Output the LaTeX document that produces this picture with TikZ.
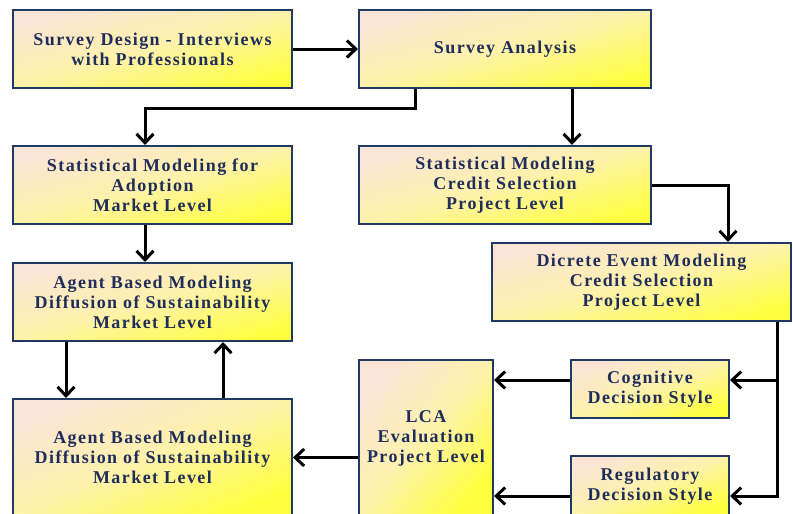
\documentclass[tikz,border=0pt]{standalone}
\usepackage{fontspec}
\setmainfont{Liberation Serif}[LetterSpace=8]
\usetikzlibrary{arrows.meta}
\definecolor{boxline}{HTML}{1F3864}
\definecolor{boxtext}{HTML}{1F2D5C}
\definecolor{boxtop}{HTML}{FCE4D6}
\definecolor{boxmid}{HTML}{FFF2AA}
\definecolor{boxbot}{HTML}{FFFF40}
\begin{document}
\begin{tikzpicture}[x=1pt,y=1pt,
  box/.style={draw=boxline, line width=2pt, top color=boxtop, bottom color=boxbot,
    middle color=boxmid, shading angle=15, text=boxtext,
    font=\fontsize{18}{20}\selectfont\bfseries, align=center, inner sep=0pt},
  arr/.style={black, line width=3pt, -{Straight Barb[length=9pt,width=17pt]}}]
\useasboundingbox (0,0) rectangle (793,-514);
\clip (0,0) rectangle (793,-514);
\node[box, minimum width=279pt, minimum height=78pt] (sd) at (152.5,-49) {Survey Design - Interviews\\with Professionals};
\node[box, minimum width=292pt, minimum height=78pt] (sa) at (505,-49) {Survey Analysis};
\node[box, minimum width=279pt, minimum height=78pt] (sma) at (152.5,-185) {Statistical Modeling for\\Adoption\\Market Level};
\node[box, minimum width=292pt, minimum height=78pt] (smc) at (505,-185) {Statistical Modeling\\Credit Selection\\Project Level};
\node[box, minimum width=299pt, minimum height=78pt] (dem) at (641.5,-282) {Dicrete Event Modeling\\Credit Selection\\Project Level};
\node[box, minimum width=279pt, minimum height=78pt] (abm1) at (152.5,-302) {Agent Based Modeling\\Diffusion of Sustainability\\Market Level};
\node[box, minimum width=279pt, minimum height=117pt, shading angle=23] (abm2) at (152.5,-457.5) {Agent Based Modeling\\Diffusion of Sustainability\\Market Level};
\node[box, minimum width=134pt, minimum height=156pt, shading angle=49] (lca) at (426,-438) {LCA\\Evaluation\\Project Level};
\node[box, minimum width=158pt, minimum height=58pt, shading angle=20] (cog) at (650,-389) {Cognitive\\Decision Style};
\node[box, minimum width=158pt, minimum height=60pt, shading angle=21] (reg) at (650,-486) {Regulatory\\Decision Style};
\draw[arr] (sd) -- (sa);
\draw[arr] ([xshift=-90pt]sa.south) -- ++(0,-19) -| ([xshift=-7.5pt]sma.north);
\draw[arr] ([xshift=67pt]sa.south) -- ([xshift=67pt]smc.north);
\draw[arr] (smc.east) -| ([xshift=86.5pt]dem.north);
\draw[arr] ([xshift=-7.5pt]sma.south) -- ([xshift=-7.5pt]abm1.north);
\draw[arr] ([xshift=-86.5pt]abm1.south) -- ([xshift=-86.5pt]abm2.north);
\draw[arr] ([xshift=70.5pt]abm2.north) -- ([xshift=70.5pt]abm1.south);
\draw[arr] ([xshift=135.5pt]dem.south) |- ([yshift=9pt]cog.east);
\draw[arr] ([xshift=135.5pt]dem.south) |- ([yshift=-10pt]reg.east);
\draw[arr] ([yshift=9pt]cog.west) -- ([yshift=9pt]cog.west -| lca.east);
\draw[arr] ([yshift=-10pt]reg.west) -- ([yshift=-10pt]reg.west -| lca.east);
\draw[arr] (lca.west |- abm2.east) -- (abm2.east);
\end{tikzpicture}
\end{document}
